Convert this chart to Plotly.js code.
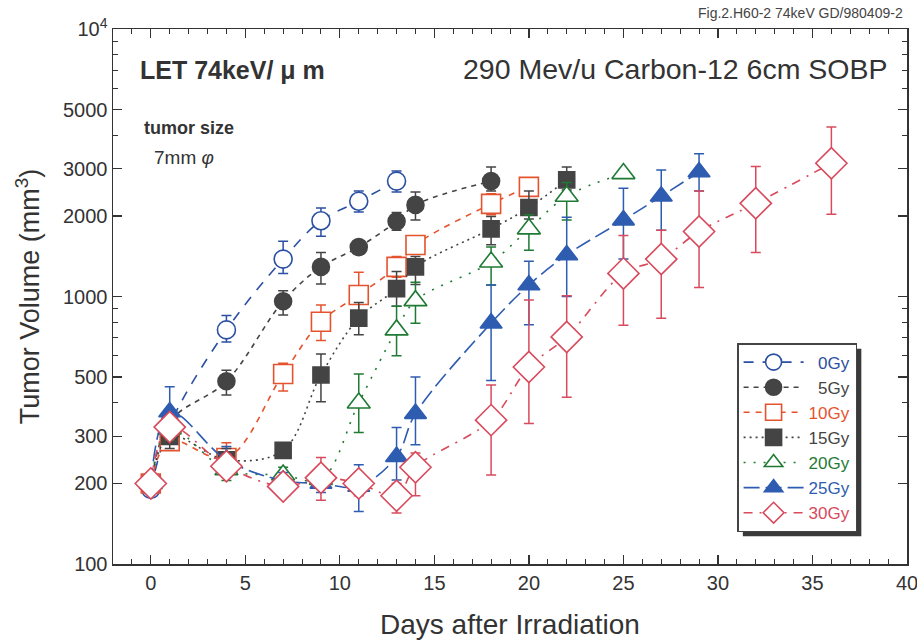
<!DOCTYPE html>
<html>
<head>
<meta charset="utf-8">
<script src="https://cdn.plot.ly/plotly-3.0.1.min.js"></script>
<style>html,body{margin:0;padding:0;background:#fff;}#chart{width:917px;height:641px;}</style>
</head>
<body>
<div id="chart"></div>
<script>
// ---- Data ----
const doseLabels = ["0Gy", "5Gy", "10Gy", "15Gy", "20Gy", "25Gy", "30Gy"];

const days0  = [0, 1, 4, 7, 9, 11, 13];
const vol0   = [190, 330, 750, 1380, 1920, 2270, 2700];
const errP0  = [10, 40, 100, 230, 220, 210, 245];
const errM0  = [10, 40, 74, 160, 240, 200, 240];

const days5  = [0, 1, 4, 7, 9, 11, 13, 14, 18];
const vol5   = [195, 340, 482, 960, 1290, 1530, 1910, 2200, 2700];
const errP5  = [10, 40, 48, 90, 170, 40, 150, 260, 350];
const errM5  = [10, 40, 54, 107, 177, 40, 140, 270, 220];

const days10 = [0, 1, 4, 7, 9, 11, 13, 14, 18, 20];
const vol10  = [200, 288, 249, 513, 805, 1013, 1290, 1557, 2220, 2570];
const errP10 = [10, 25, 35, 50, 125, 220, 120, 110, 200, 210];
const errM10 = [10, 20, 30, 70, 120, 140, 110, 100, 200, 200];

const days15 = [0, 1, 4, 7, 9, 11, 13, 14, 18, 20, 22];
const vol15  = [200, 300, 245, 266, 509, 830, 1070, 1290, 1790, 2150, 2730];
const errP15 = [10, 30, 25, 15, 100, 120, 170, 120, 200, 330, 320];
const errM15 = [10, 30, 25, 15, 105, 110, 150, 180, 230, 200, 230];

const days20 = [0, 1, 4, 7, 9, 11, 13, 14, 18, 20, 22, 25];
const vol20  = [200, 320, 225, 215, 207, 400, 750, 965, 1345, 1790, 2370, 2880];
const errP20 = [10, 30, 20, 15, 15, 113, 170, 165, 185, 230, 300, 0];
const errM20 = [10, 30, 20, 15, 15, 90, 150, 170, 240, 300, 440, 0];

const days25 = [0, 1, 4, 7, 9, 11, 13, 14, 18, 20, 22, 25, 27, 29];
const vol25  = [200, 370, 245, 205, 200, 195, 252, 365, 795, 1104, 1430, 1930, 2370, 2920];
const errP25 = [10, 90, 30, 15, 15, 40, 72, 135, 310, 250, 550, 610, 600, 500];
const errM25 = [10, 60, 30, 15, 15, 38, 46, 86, 310, 320, 430, 550, 600, 440];

const days30 = [0, 1, 4, 7, 9, 11, 13, 14, 18, 20, 22, 25, 27, 29, 32, 36];
const vol30  = [200, 325, 232, 195, 210, 200, 180, 230, 345, 545, 706, 1220, 1380, 1750, 2230, 3150];
const errP30 = [10, 25, 25, 15, 40, 20, 20, 30, 122, 425, 300, 470, 390, 730, 830, 1150];
const errM30 = [10, 25, 15, 15, 37, 20, 25, 50, 130, 210, 286, 440, 550, 670, 770, 1120];

const xTickVals = [0, 5, 10, 15, 20, 25, 30, 35, 40];
const yTickVals = [100, 200, 300, 500, 1000, 2000, 3000, 5000, 10000];
const yTickText = ["100", "200", "300", "500", "1000", "2000", "3000", "5000", "10<sup>4</sup>"];
const yMinorVals = [400, 600, 700, 800, 900, 4000, 6000, 7000, 8000, 9000];

// ---- Styles ----
const C = {
  blue0: "#2b4fa2", gray: "#444444", red10: "#e5532e", green: "#1f7a34",
  blue25: "#2e5cb0", red30: "#d84a5c"
};
const NB = "\u00a0";

function mkTrace(name, color, x, y, ep, em, dash, symbol, size, filled) {
  return {
    type: "scatter", mode: "lines+markers",
    name: '<span style="color:' + color + '">' + name + '</span>',
    x: x, y: y,
    line: {color: color, width: 1.6, dash: dash, shape: "spline", smoothing: 1},
    marker: {symbol: symbol, size: size, color: filled ? color : "#ffffff",
             line: {color: color, width: 1.6}},
    error_y: {type: "data", symmetric: false, array: ep, arrayminus: em,
              color: color, thickness: 1.5, width: 5},
    cliponaxis: false
  };
}

const traces = [
  mkTrace(NB + NB + doseLabels[0], C.blue0, days0, vol0, errP0, errM0, "10px,9px", "circle", 18, false),
  mkTrace(NB + NB + doseLabels[1], C.gray, days5, vol5, errP5, errM5, "5px,5px", "circle", 17, true),
  mkTrace(doseLabels[2], C.red10, days10, vol10, errP10, errM10, "6px,6px", "square", 19, false),
  mkTrace(doseLabels[3], C.gray, days15, vol15, errP15, errM15, "2px,4px", "square", 16, true),
  mkTrace(doseLabels[4], C.green, days20, vol20, errP20, errM20, "2px,8px", "triangle-up", 20, false),
  mkTrace(doseLabels[5], C.blue25, days25, vol25, errP25, errM25, "16px,6px", "triangle-up", 19, true),
  mkTrace(doseLabels[6], C.red30, days30, vol30, errP30, errM30, "9px,7px,2px,7px", "diamond", 24, false)
];

const FONT = "Arial, 'Liberation Sans', sans-serif";
const M = {l: 113, r: 10, t: 29, b: 77};
const W = 917, H = 641;

const layout = {
  width: W, height: H,
  margin: M,
  paper_bgcolor: "#ffffff", plot_bgcolor: "#ffffff",
  font: {family: FONT, color: "#333333"},
  showlegend: true,
  legend: {
    x: 0.786, y: 0.413, xanchor: "left", yanchor: "top",
    bgcolor: "#ffffff", bordercolor: "#444444", borderwidth: 1.5,
    font: {family: FONT, size: 17, color: "#333333"},
    itemwidth: 60
  },
  xaxis: {
    range: [-2, 40], tickmode: "array", tickvals: xTickVals,
    ticks: "inside", ticklen: 9, tickwidth: 1.2, tickcolor: "#333",
    minor: {dtick: 1, ticks: "inside", ticklen: 5, tickwidth: 1, tickcolor: "#333"},
    showline: true, linecolor: "#333", linewidth: 1.5, mirror: "ticks",
    showgrid: false, zeroline: false, ticklabeloverflow: "allow",
    tickfont: {family: FONT, size: 20, color: "#333"},
    title: {text: "Days after Irradiation", font: {family: FONT, size: 28, color: "#333"}, standoff: 22}
  },
  yaxis: {
    type: "log", range: [2, 4], tickmode: "array", tickvals: yTickVals, ticktext: yTickText,
    ticks: "inside", ticklen: 9, tickwidth: 1.2, tickcolor: "#333",
    minor: {tickmode: "array", tickvals: yMinorVals, ticks: "inside", ticklen: 5, tickwidth: 1, tickcolor: "#333"},
    showline: true, linecolor: "#333", linewidth: 1.5, mirror: "ticks",
    showgrid: false, zeroline: false, ticklabeloverflow: "allow",
    tickfont: {family: FONT, size: 20, color: "#333"},
    title: {text: "Tumor Volume (mm<sup>3</sup>)", font: {family: FONT, size: 27, color: "#333"}, standoff: 15}
  },
  annotations: [
    {xref: "paper", yref: "paper", x: 0.031, y: 0.923, xanchor: "left", yanchor: "middle",
     text: "<b>LET 74keV/ μ m</b>", showarrow: false, font: {family: FONT, size: 25, color: "#333"}},
    {xref: "paper", yref: "paper", x: 0.979, y: 0.925, xanchor: "right", yanchor: "middle",
     text: "290 Mev/u Carbon-12 6cm SOBP", showarrow: false, font: {family: FONT, size: 28.5, color: "#333"}},
    {xref: "paper", yref: "paper", x: 0.037, y: 0.815, xanchor: "left", yanchor: "middle",
     text: "<b>tumor size</b>", showarrow: false, font: {family: FONT, size: 18, color: "#333"}},
    {xref: "paper", yref: "paper", x: 0.049, y: 0.759, xanchor: "left", yanchor: "middle",
     text: "7mm <i>φ</i>", showarrow: false, font: {family: FONT, size: 19, color: "#333"}},
    {xref: "paper", yref: "paper", x: 0.9975, y: 1.03, xanchor: "right", yanchor: "middle",
     text: "Fig.2.H60-2 74keV GD/980409-2", showarrow: false, font: {family: FONT, size: 14, color: "#444"}}
  ]
};

Plotly.newPlot("chart", traces, layout, {staticPlot: true, displayModeBar: false}).then(function (gd) {
  // Drop-shadow behind the legend box, sized from the rendered legend.
  const bg = gd.querySelector(".legend .bg");
  if (!bg) return;
  const r = bg.getBoundingClientRect();
  const c = gd.getBoundingClientRect();
  const pw = W - M.l - M.r, ph = H - M.t - M.b;
  const off = 5;
  const px0 = r.left - c.left + off, px1 = r.right - c.left + off;
  const py0 = r.top - c.top + off, py1 = r.bottom - c.top + off;
  const shape = {
    type: "rect", xref: "paper", yref: "paper", layer: "above",
    x0: (px0 - M.l) / pw, x1: (px1 - M.l) / pw,
    y0: (H - M.b - py1) / ph, y1: (H - M.b - py0) / ph,
    fillcolor: "#3a3a3a", line: {width: 0}
  };
  return Plotly.relayout(gd, {shapes: [shape]});
});
</script>
</body>
</html>
